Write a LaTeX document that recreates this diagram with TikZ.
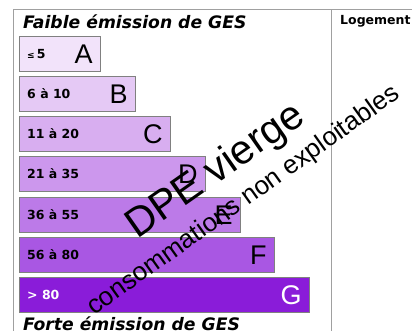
\documentclass[tikz,border=0pt]{standalone}
\usepackage{fontspec}
\setmainfont{DejaVu Sans}
\newfontfamily\letterfont{Liberation Sans}
\usetikzlibrary{positioning}
\definecolor{gesA}{HTML}{F2E3FA}
\definecolor{gesB}{HTML}{E5C9F5}
\definecolor{gesC}{HTML}{D8AEF0}
\definecolor{gesD}{HTML}{CC97ED}
\definecolor{gesE}{HTML}{BC7AE8}
\definecolor{gesF}{HTML}{A957E3}
\definecolor{gesG}{HTML}{8A1CD9}
\definecolor{framegray}{HTML}{A0A0A0}
\tikzset{
  gesbar/.style={draw=gray, line width=0.8pt, anchor=north west, minimum height=35pt, inner sep=0pt},
  rangetext/.style={anchor=base west, inner sep=0pt, font=\fontsize{12.5}{12.5}\selectfont\bfseries},
  lettertext/.style={anchor=base east, inner sep=0pt, font=\fontsize{27}{27}\selectfont\letterfont},
  titletext/.style={anchor=base west, inner sep=0pt, font=\fontsize{17.2}{17.2}\selectfont\bfseries\itshape}
}
\begin{document}
\begin{tikzpicture}[x=1pt, y=-1pt]
\useasboundingbox (0, 0) rectangle (412, 331);
\draw[framegray, line width=1pt] (13, 331) -- (13, 10) -- (412, 10);
\draw[framegray, line width=1pt] (331, 10) -- (331, 331);
%Bars
\node (barA) [gesbar, fill=gesA, minimum width=81pt] at (19, 36) {};
\node (barB) [gesbar, fill=gesB, minimum width=116pt] at (19, 76) {};
\node (barC) [gesbar, fill=gesC, minimum width=151pt] at (19, 116) {};
\node (barD) [gesbar, fill=gesD, minimum width=186pt] at (19, 156) {};
\node (barE) [gesbar, fill=gesE, minimum width=221pt] at (19, 197) {};
\node (barF) [gesbar, fill=gesF, minimum width=255pt] at (19, 237) {};
\node (barG) [gesbar, fill=gesG, minimum width=290pt] at (19, 277) {};
%Text
\node (rangeA) [rangetext] at ([xshift=8pt, yshift=-5pt]barA.west) {{\fontsize{9}{9}\selectfont ≤}\,5};
\node (rangeB) [rangetext] at ([xshift=8pt, yshift=-5pt]barB.west) {6 à 10};
\node (rangeC) [rangetext] at ([xshift=8pt, yshift=-5pt]barC.west) {11 à 20};
\node (rangeD) [rangetext] at ([xshift=8pt, yshift=-5pt]barD.west) {21 à 35};
\node (rangeE) [rangetext] at ([xshift=8pt, yshift=-5pt]barE.west) {36 à 55};
\node (rangeF) [rangetext] at ([xshift=8pt, yshift=-5pt]barF.west) {56 à 80};
\node (rangeG) [rangetext, white] at ([xshift=8pt, yshift=-5pt]barG.west) {> 80};
\node (letterA) [lettertext] at ([xshift=-8pt, yshift=-9.7pt]barA.east) {A};
\node (letterB) [lettertext] at ([xshift=-8pt, yshift=-9.7pt]barB.east) {B};
\node (letterC) [lettertext] at ([xshift=-8pt, yshift=-9.7pt]barC.east) {C};
\node (letterD) [lettertext] at ([xshift=-8pt, yshift=-9.7pt]barD.east) {D};
\node (letterE) [lettertext] at ([xshift=-8pt, yshift=-9.7pt]barE.east) {E};
\node (letterF) [lettertext] at ([xshift=-8pt, yshift=-9.7pt]barF.east) {F};
\node (letterG) [lettertext, white] at ([xshift=-8pt, yshift=-9.7pt]barG.east) {G};
\node (titletop) [titletext] at (23, 29) {Faible émission de GES};
\node (titlebottom) [titletext] at (23, 330) {Forte émission de GES};
\node (logement) [anchor=base west, inner sep=0pt, font=\fontsize{12.5}{12.5}\selectfont\bfseries] at (340, 25) {Logement};
%Watermark
\node (dpe) [anchor=base west, inner sep=0pt, rotate=35, font=\fontsize{41}{41}\selectfont\letterfont] at (137, 240) {DPE vierge};
\node (conso) [anchor=base west, inner sep=0pt, rotate=35.5, font=\fontsize{26}{26}\selectfont\letterfont] at (94, 316) {consommations non exploitables};
\end{tikzpicture}
\end{document}
